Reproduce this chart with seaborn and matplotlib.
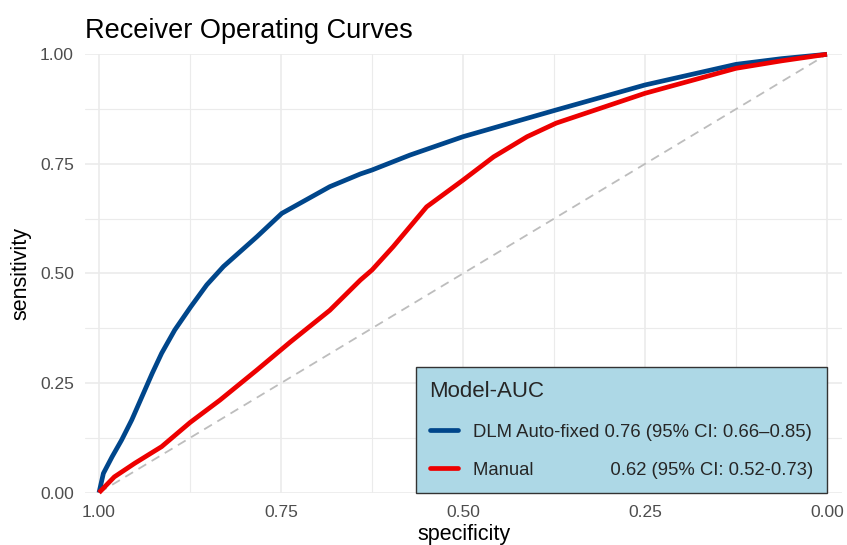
import numpy as np
import pandas as pd
import matplotlib
matplotlib.use("Agg")
import matplotlib.pyplot as plt
import seaborn as sns

# Valeurs
blue_spec = [1.0, 0.994, 0.982, 0.969, 0.955, 0.941, 0.927, 0.914, 0.896, 0.874, 0.852, 0.829,
             0.783, 0.749, 0.683, 0.641, 0.625, 0.573, 0.5, 0.435, 0.372, 0.25, 0.125, 0.0625, 0.0]
blue_sens = [0.0, 0.044, 0.082, 0.12, 0.166, 0.219, 0.272, 0.318, 0.371, 0.424, 0.474, 0.516,
             0.584, 0.637, 0.698, 0.727, 0.736, 0.770, 0.812, 0.843, 0.873, 0.930, 0.977, 0.99, 1.0]

red_spec = [1.0, 0.979, 0.951, 0.914, 0.875, 0.834, 0.783, 0.737, 0.683, 0.641, 0.625, 0.596,
            0.55, 0.5, 0.458, 0.412, 0.372, 0.25, 0.125, 0.0625, 0.0]
red_sens = [0.0, 0.036, 0.067, 0.105, 0.160, 0.211, 0.280, 0.344, 0.416, 0.485, 0.508, 0.561,
            0.652, 0.713, 0.766, 0.812, 0.843, 0.911, 0.968, 0.985, 1.0]

models = ["DLM Auto-fixed", "Manual"]
auc_labels = ["DLM Auto-fixed 0.76 (95% CI: 0.66\u20130.85)",
              "Manual" + " " * 15 + "0.62 (95% CI: 0.52-0.73)"]
colors = ["#00468B", "#ED0000"]

ticks = [1.00, 0.75, 0.50, 0.25, 0.00]
tick_labels = ["1.00", "0.75", "0.50", "0.25", "0.00"]
minor_ticks = [0.875, 0.625, 0.375, 0.125]

df = pd.concat([
    pd.DataFrame({"specificity": blue_spec, "sensitivity": blue_sens, "model": models[0]}),
    pd.DataFrame({"specificity": red_spec, "sensitivity": red_sens, "model": models[1]}),
], ignore_index=True)

sns.set_theme(style="white")
plt.rcParams["font.family"] = ["Liberation Sans", "DejaVu Sans"]

fig = plt.figure(figsize=(8.47, 5.45), dpi=100)
ax = fig.add_axes([0.1004, 0.096, 0.8937, 0.8044])

# diagonale de référence
ax.plot([1, 0], [0, 1], color="#BDBDBD", lw=1.3, ls=(0, (5, 3.5)), zorder=2)

sns.lineplot(data=df, x="specificity", y="sensitivity", hue="model", hue_order=models,
             palette=colors, sort=False, estimator=None, lw=3.4, legend=False, ax=ax, zorder=3)
for line in ax.lines[1:]:
    line.set_clip_on(False)
    line.set_solid_capstyle("butt")
    line.set_solid_joinstyle("round")

ax.set_xlim(1.0192, -0.0206)
ax.set_ylim(0, 1)
ax.set_xticks(ticks)
ax.set_xticklabels(tick_labels)
ax.set_yticks(ticks)
ax.set_yticklabels(tick_labels)
ax.set_xticks(minor_ticks, minor=True)
ax.set_yticks(minor_ticks, minor=True)
ax.grid(which="major", color="#EBEBEB", lw=1.2, zorder=0)
ax.grid(which="minor", color="#EBEBEB", lw=0.8, zorder=0)
ax.set_axisbelow(True)
for s in ax.spines.values():
    s.set_visible(False)
ax.tick_params(which="both", length=0)
ax.tick_params(axis="x", labelsize=12.5, labelcolor="#4D4D4D", pad=9)
ax.tick_params(axis="y", labelsize=12.5, labelcolor="#4D4D4D", pad=8)

ax.set_xlabel("specificity", fontsize=15.5, color="black", labelpad=3)
ax.set_ylabel("sensitivity", fontsize=15.5, color="black", labelpad=6)
ax.set_title("Receiver Operating Curves", loc="left", fontsize=19.5, pad=12, color="black")

handles = [plt.Line2D([], [], color=c, lw=3.4) for c in colors]
leg = ax.legend(handles, auc_labels, title="Model-AUC", loc="lower right",
                bbox_to_anchor=(0.9802, 0.0), frameon=True, fancybox=False,
                facecolor="#ADD8E6", edgecolor="#333333", framealpha=1,
                fontsize=13.3, title_fontsize=16, alignment="left", borderpad=0.75,
                handlelength=1.55, handletextpad=0.8, labelspacing=1.15, borderaxespad=0)
leg.get_frame().set_linewidth(1.0)
leg.set_zorder(5)

fig.savefig("out.png", dpi=100)
